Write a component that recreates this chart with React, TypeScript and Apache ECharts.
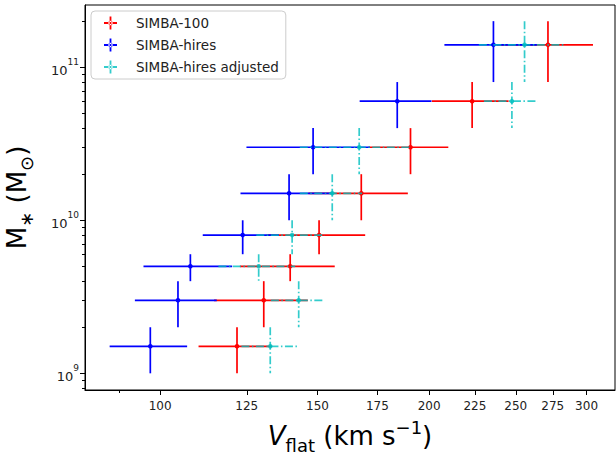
import React, { useEffect, useRef } from "react";
import * as echarts from "echarts";

// Stellar-mass bins (M_sun)
const massCenter = [1.5e9, 3e9, 5e9, 8e9, 1.5e10, 3e10, 6e10, 1.4e11];
const massLow = [1e9, 2e9, 4e9, 6e9, 1e10, 2e10, 4e10, 8e10];
const massHigh = [2e9, 4e9, 6e9, 1e10, 2e10, 4e10, 8e10, 2e11];

// V_flat (km/s) and their errors
const simba100V = [121.9, 130.6, 139.8, 150.6, 167.9, 190.6, 223.4, 271.6];
const simba100Err = [11.5, 15.7, 17.0, 19.0, 21.4, 19.5, 22.0, 33.4];
const hiresV = [97.5, 104.7, 108.1, 123.7, 139.4, 148.3, 184.2, 236.0];
const hiresErr = [9.7, 11.0, 12.3, 12.1, 16.4, 23.4, 17.0, 28.0];
const adjV = [132.8, 142.9, 128.9, 140.5, 155.8, 167.0, 247.5, 255.7];
const adjErr = [9.5, 9.9, 12.7, 12.4, 12.5, 23.7, 17.2, 28.4];

const xTickValues = [100, 125, 150, 175, 200, 225, 250, 275, 300];
const xMinorTicks = [90];
const yTickValues = [1e9, 1e10, 1e11];
const yMinorTicks = [
  8e8, 9e8, 2e9, 3e9, 4e9, 5e9, 6e9, 7e9, 8e9, 9e9,
  2e10, 3e10, 4e10, 5e10, 6e10, 7e10, 8e10, 9e10, 2e11,
];

const seriesNames = ["SIMBA-100", "SIMBA-hires", "SIMBA-hires adjusted"];

const FONT = "DejaVu Sans";
const X_MIN = 82.4;
const X_MAX = 322.8;
const Y_MIN = 7.78e8;
const Y_MAX = 2.55e11;

function build(v: number[], e: number[]) {
  return v.map((x, i) => [x, massCenter[i], x - e[i], x + e[i], massLow[i], massHigh[i]]);
}

function makeRender(color: string, dashed: boolean, opacity: number) {
  return (params: any, api: any) => {
    const x = api.value(0);
    const y = api.value(1);
    const c = api.coord([x, y]);
    const l = api.coord([api.value(2), y]);
    const r = api.coord([api.value(3), y]);
    const lo = api.coord([x, api.value(4)]);
    const hi = api.coord([x, api.value(5)]);
    const ls: any = {
      stroke: color,
      lineWidth: 1.7,
      opacity,
      lineDash: dashed ? [8, 2.5, 1.5, 2.5] : null,
    };
    return {
      type: "group",
      children: [
        { type: "line", shape: { x1: l[0], y1: c[1], x2: r[0], y2: c[1] }, style: ls },
        { type: "line", shape: { x1: c[0], y1: hi[1], x2: c[0], y2: lo[1] }, style: ls },
        { type: "circle", shape: { cx: c[0], cy: c[1], r: 2.3 }, style: { fill: color, opacity } },
      ],
    };
  };
}

const crossIcon =
  "path://M0,5.6H13V7.4H0Z M5.6,0H7.4V13H5.6Z M4.3,6.5a2.2,2.2 0 1,0 4.4,0a2.2,2.2 0 1,0 -4.4,0Z";

export default function App() {
  const ref = useRef<HTMLDivElement>(null);
  useEffect(() => {
    if (!ref.current) return;
    const chart = echarts.init(ref.current, undefined, { renderer: "svg" });
    const colors = ["#ff0000", "#0000ff", "#00bfbf"];
    const datasets = [build(simba100V, simba100Err), build(hiresV, hiresErr), build(adjV, adjErr)];
    const supFmt = (v: number) => `{b|10}{s|${Math.round(Math.log10(v))}}`;
    const option: any = {
      animation: false,
      backgroundColor: "#ffffff",
      textStyle: { fontFamily: FONT },
      grid: {
        left: 85,
        top: 5,
        right: 1,
        bottom: 65,
        containLabel: false,
        outerBoundsMode: "none",
        show: true,
        borderColor: "#000",
        borderWidth: 1,
        backgroundColor: "transparent",
      },
      legend: {
        orient: "vertical",
        left: 91,
        top: 11,
        padding: [5, 7, 5, 13],
        itemGap: 8,
        itemWidth: 13,
        itemHeight: 13,
        backgroundColor: "rgba(255,255,255,0.85)",
        borderColor: "#cccccc",
        borderWidth: 1,
        borderRadius: 4,
        selectedMode: false,
        textStyle: { fontFamily: FONT, fontSize: 13.5, color: "#222", padding: [0, 0, 0, 14] },
        data: [
          { name: seriesNames[0], icon: crossIcon, itemStyle: { color: colors[0] } },
          { name: seriesNames[1], icon: crossIcon, itemStyle: { color: colors[1] } },
          { name: seriesNames[2], icon: crossIcon, itemStyle: { color: colors[2], opacity: 0.8 } },
        ],
      },
      xAxis: [
        {
          type: "log",
          min: X_MIN,
          max: X_MAX,
          position: "bottom",
          splitLine: { show: false },
          axisLine: { show: true, lineStyle: { color: "#000", width: 1 } },
          axisTick: { show: true, length: 5, customValues: xTickValues, lineStyle: { color: "#000" } },
          axisLabel: {
            customValues: xTickValues,
            formatter: (v: number) => String(Math.round(v)),
            fontFamily: FONT,
            fontSize: 12,
            color: "#222",
            margin: 10,
          },
          name: "{it|V}{sub|flat}{n| (km s}{sup|−1}{n|)}",
          nameLocation: "middle",
          nameGap: 28,
          nameTextStyle: {
            rich: {
              it: { fontFamily: FONT, fontSize: 26, fontStyle: "italic", lineHeight: 36, color: "#000" },
              n: { fontFamily: FONT, fontSize: 26, lineHeight: 36, color: "#000" },
              sub: { fontFamily: FONT, fontSize: 18, lineHeight: 18, verticalAlign: "bottom", color: "#000" },
              sup: { fontFamily: FONT, fontSize: 18, lineHeight: 18, verticalAlign: "top", color: "#000" },
            },
          },
        },
        {
          type: "log",
          min: X_MIN,
          max: X_MAX,
          position: "bottom",
          splitLine: { show: false },
          axisLine: { show: false },
          axisTick: { show: true, length: 3, customValues: xMinorTicks, lineStyle: { color: "#000" } },
          axisLabel: { show: false },
        },
      ],
      yAxis: [
        {
          type: "log",
          min: Y_MIN,
          max: Y_MAX,
          position: "left",
          splitLine: { show: false },
          axisLine: { show: true, lineStyle: { color: "#000", width: 1 } },
          axisTick: { show: true, length: 5, customValues: yTickValues, lineStyle: { color: "#000" } },
          axisLabel: {
            customValues: yTickValues,
            formatter: supFmt,
            margin: 6,
            rich: {
              b: { fontFamily: FONT, fontSize: 13, color: "#222", lineHeight: 20, verticalAlign: "bottom" },
              s: { fontFamily: FONT, fontSize: 9, color: "#222", lineHeight: 20, verticalAlign: "top" },
            },
          },
          name: "{n|M}{sub|∗}{n| (M}{sub|⊙}{n|)}",
          nameLocation: "middle",
          nameRotate: 90,
          nameGap: 50,
          nameTextStyle: {
            rich: {
              n: { fontFamily: FONT, fontSize: 26, lineHeight: 36, color: "#000" },
              sub: { fontFamily: FONT, fontSize: 18, lineHeight: 18, verticalAlign: "bottom", color: "#000" },
            },
          },
        },
        {
          type: "log",
          min: Y_MIN,
          max: Y_MAX,
          position: "left",
          splitLine: { show: false },
          axisLine: { show: false },
          axisTick: { show: true, length: 3, customValues: yMinorTicks, lineStyle: { color: "#000" } },
          axisLabel: { show: false },
        },
      ],
      series: datasets.map((d, i) => ({
        type: "custom",
        name: seriesNames[i],
        xAxisIndex: 0,
        yAxisIndex: 0,
        itemStyle: { color: colors[i], opacity: i === 2 ? 0.8 : 1 },
        encode: { x: 0, y: 1 },
        renderItem: makeRender(colors[i], i === 2, i === 2 ? 0.8 : 1),
        data: d,
      })),
    };
    chart.setOption(option);
    return () => chart.dispose();
  }, []);
  return (
    <div
      ref={ref}
      style={{ position: "fixed", left: 0, top: 0, width: 616, height: 455 }}
    />
  );
}
